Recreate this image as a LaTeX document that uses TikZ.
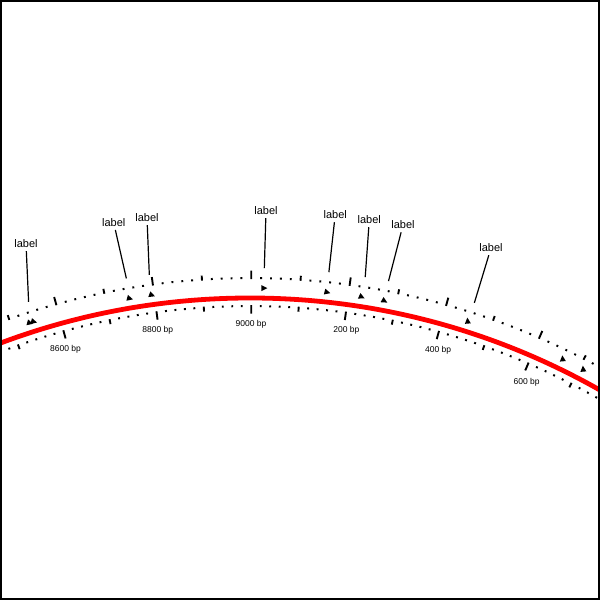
\documentclass[tikz,border=0pt]{standalone}
\usepackage{fontspec}
\setmainfont{Liberation Sans}
\usetikzlibrary{calc,shapes.geometric}
\tikzset{
  redring/.style={draw=red, line width=4.8pt},
  tickmark/.style={draw=black, line width=1.9pt},
  leader/.style={draw=black, line width=1.2pt},
  featlabel/.style={font=\fontsize{11}{13}\selectfont, inner sep=3pt},
  bplabel/.style={font=\fontsize{8.5}{10}\selectfont, inner sep=0pt},
  tri/.style={isosceles triangle, isosceles triangle stretches, fill=black,
    inner sep=0pt, minimum width=6pt, minimum height=6pt},
  frame/.style={draw=black, line width=2pt}
}
\begin{document}
\begin{tikzpicture}[x=1pt,y=1pt]
\useasboundingbox (0,0) rectangle (600,600);
\coordinate (C) at (250,-408);
\begin{scope}
\clip (0,0) rectangle (600,600);
% backbone
\draw[redring] (C) circle[radius=710pt];
% tick rings
\foreach \j in {-30,...,42}{
  \pgfmathsetmacro\ang{90-(0.1+0.775*\j)}
  \pgfmathtruncatemacro\m{mod(abs(\j),10)}
  \ifnum\m=0 \def\len{8.5}\else\ifnum\m=5 \def\len{5}\else\def\len{2}\fi\fi
  \draw[tickmark] ($(C)+(\ang:703)$) -- ($(C)+(\ang:{703-\len})$);
  \draw[tickmark] ($(C)+(\ang:729)$) -- ($(C)+(\ang:{729+\len})$);
}
% bp labels
\foreach \t/\x/\y in {8600/65.5/250.8, 8800/157.7/270.0, 9000/251/275.7,
  200/346.3/270.0, 400/438.2/250.1, 600/526.6/217.9}{
  \node[bplabel] (bp\t) at (\x,\y) {\t\ bp};
}
% feature markers
\foreach \n/\th/\r in {t1a/-17.87/-15, t1b/-17.54/-15, t2/-9.68/-15, t3/-7.90/-20,
  t4/1.06/0, t5/6.09/-15, t6/8.86/-25, t7/10.70/-30, t8/17.6/95, t9/25.74/95, t10/27.57/95}{
  \node[tri, rotate=\r] (\n) at ($(C)+({90-\th}:720)$) {};
}
% feature anchor points
\foreach \n/\th in {f1/-17.41, f2/-9.62, f3/-7.82, f4/1.11, f5/6.12, f6/8.96, f7/10.79, f8/17.65}{
  \coordinate (\n) at ($(C)+({90-\th}:740)$);
}
% labels
\node[featlabel] (lab1) at (26,356.2) {label};
\node[featlabel] (lab2) at (113.7,377.3) {label};
\node[featlabel] (lab3) at (147,382) {label};
\node[featlabel] (lab4) at (266,389.1) {label};
\node[featlabel] (lab5) at (335.2,385) {label};
\node[featlabel] (lab6) at (369.3,380) {label};
\node[featlabel] (lab7) at (403,375) {label};
\node[featlabel] (lab8) at (491,352) {label};
\foreach \i in {1,...,8}{
  \draw[leader] (lab\i) -- (f\i);
}
\end{scope}
\draw[frame] (1,1) rectangle (599,599);
\end{tikzpicture}
\end{document}
